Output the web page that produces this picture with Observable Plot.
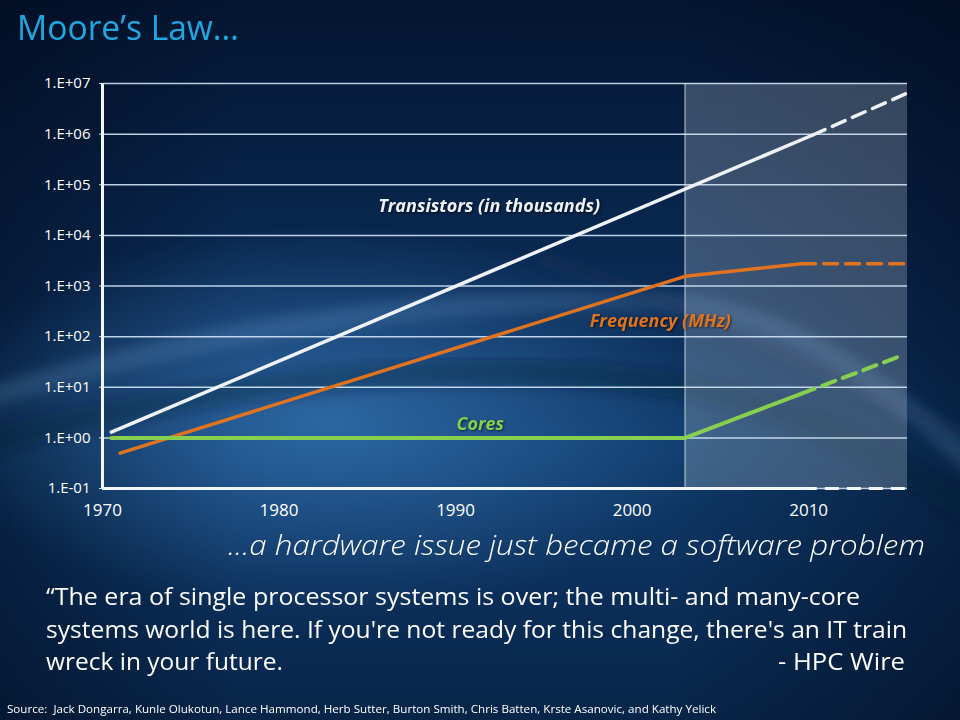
<!DOCTYPE html>
<html><head><meta charset="utf-8">
<script src="https://cdn.jsdelivr.net/npm/d3@7"></script>
<script src="https://cdn.jsdelivr.net/npm/@observablehq/plot@0.6"></script>
<style>
html,body{margin:0;padding:0;}
body{width:960px;height:720px;overflow:hidden;position:relative;font-family:"Open Sans","Noto Sans",sans-serif;
background:
 radial-gradient(ellipse 520px 260px at 330px 420px, rgba(70,140,210,0.55), rgba(70,140,210,0) 75%),
 linear-gradient(90deg, rgba(0,8,25,0.45) 0, rgba(0,8,25,0) 25%, rgba(0,8,25,0) 70%, rgba(0,8,25,0.45) 100%),
 linear-gradient(180deg, #031530 0%, #0a2b55 40%, #0f3c6c 62%, #0b2f5a 82%, #082548 100%);}
#bg{position:absolute;left:0;top:0;}
#chart{position:absolute;left:0;top:60px;}
.t{position:absolute;white-space:nowrap;transform-origin:0 0;color:#fff;line-height:1.2;}
#title{color:#1ea7e1;font-size:35px;}
#sub{font-size:28px;font-style:italic;font-weight:300;}
.q{font-size:23px;}
#src{font-size:11px;}
#chart g[aria-label="text"] text{filter:drop-shadow(1.5px 1.5px 1px rgba(0,0,0,0.6));}
</style></head>
<body>
<svg id="bg" width="960" height="720">
 <defs><filter id="bl"><feGaussianBlur stdDeviation="6"/></filter></defs>
 <path d="M-20,400 C200,330 420,300 620,300 C760,300 860,360 980,470" fill="none" stroke="rgba(140,190,240,0.16)" stroke-width="22" filter="url(#bl)"/>
 <path d="M-20,445 C220,380 430,360 640,380 C780,395 880,450 980,520" fill="none" stroke="rgba(0,20,50,0.3)" stroke-width="26" filter="url(#bl)"/>
 <path d="M540,260 C700,300 820,380 980,440" fill="none" stroke="rgba(20,50,90,0.35)" stroke-width="14" filter="url(#bl)"/>
</svg>
<div id="title" class="t">Moore’s Law…</div>
<div id="chart"></div>
<div id="sub" class="t">...a hardware issue just became a software problem</div>
<div id="q1" class="t q">“The era of single processor systems is over; the multi- and many-core</div>
<div id="q2" class="t q">systems world is here. If you're not ready for this change, there's an IT train</div>
<div id="q3" class="t q">wreck in your future.</div>
<div id="q4" class="t q">- HPC Wire</div>
<div id="src" class="t">Source:&nbsp; Jack Dongarra, Kunle Olukotun, Lance Hammond, Herb Sutter, Burton Smith, Chris Batten, Krste Asanovic, and Kathy Yelick</div>
<script>
// ---- data ----
const yearTicks = [1970, 1980, 1990, 2000, 2010];
const decadeTicks = [0.1, 1, 10, 100, 1e3, 1e4, 1e5, 1e6, 1e7];
const decadeLabels = ["1.E-01","1.E+00","1.E+01","1.E+02","1.E+03","1.E+04","1.E+05","1.E+06","1.E+07"];
const xStart = 1970, xEnd = 2015.6;
const multicoreStart = 2003;      // shaded era
const projectionStart = 2009.7;   // solid -> dashed

const transistorYears = [1970.5, 2010.2];
const transistorValues = [1.3, 9.5e5];
const transistorProjYears = [2010.2, 2015.6];
const transistorProjValues = [9.5e5, 6.5e6];

const frequencyYears = [1971, 2003, 2009.6];
const frequencyValues = [0.5, 1550, 2750];
const frequencyProjYears = [2009.6, 2015.6];
const frequencyProjValues = [2750, 2750];

const coreYears = [1970.5, 2003, 2009.6];
const coreValues = [1, 1, 7.5];
const coreProjYears = [2009.6, 2015.1];
const coreProjValues = [7.5, 40];

const labelNames = ["Transistors (in thousands)", "Frequency (MHz)", "Cores"];
const labelYears = [1991.9, 2001.6, 1991.4];
const labelValues = [3.7e4, 200, 1.9];
const seriesColors = ["#eef2f7", "#e0731f", "#86cf4f"];

// ---- helpers ----
const pts = (xs, ys) => xs.map((x, i) => ({x, y: ys[i]}));

const chart = Plot.plot({
  width: 960, height: 463,
  marginLeft: 102, marginRight: 53, marginTop: 23, marginBottom: 35,
  style: {background: "transparent", color: "#fff", fontFamily: "'Open Sans','Noto Sans',sans-serif", overflow: "visible"},
  x: {domain: [xStart, xEnd]},
  y: {type: "log", domain: [0.1, 1e7]},
  marks: [
    Plot.rect([{x1: multicoreStart, x2: xEnd, y1: 0.1, y2: 1e7}], {x1: "x1", x2: "x2", y1: "y1", y2: "y2", fill: "#c8d8e8", fillOpacity: 0.26}),
    Plot.ruleX([multicoreStart], {y1: 0.1, y2: 1e7, stroke: "#ffffff", strokeOpacity: 0.35, strokeWidth: 2}),
    Plot.gridY(decadeTicks, {stroke: "#d2e4f5", strokeOpacity: 0.9, strokeWidth: 1.5}),
    Plot.axisY(decadeTicks, {tickSize: 3, tickPadding: 9, fontSize: 15, stroke: "#d2e4f5", tickFormat: d => decadeLabels[decadeTicks.indexOf(d)], label: null}),
    Plot.axisX(yearTicks, {tickSize: 0, tickPadding: 15, fontSize: 17, tickFormat: d => String(d), label: null}),
    Plot.ruleX([xStart], {y1: 0.1, y2: 1e7, stroke: "#f2f5f9", strokeWidth: 3}),
    Plot.ruleY([0.1], {x1: xStart, x2: projectionStart, stroke: "#f2f5f9", strokeWidth: 3}),
    Plot.ruleY([0.1], {x1: projectionStart, x2: xEnd, stroke: "#f2f5f9", strokeWidth: 3, strokeDasharray: "14,8"}),
    Plot.line(pts(transistorYears, transistorValues), {x: "x", y: "y", stroke: seriesColors[0], strokeWidth: 3.5}),
    Plot.line(pts(transistorProjYears, transistorProjValues), {x: "x", y: "y", stroke: seriesColors[0], strokeWidth: 3.5, strokeDasharray: "14,8"}),
    Plot.line(pts(frequencyYears, frequencyValues), {x: "x", y: "y", stroke: seriesColors[1], strokeWidth: 3.5}),
    Plot.line(pts(frequencyProjYears, frequencyProjValues), {x: "x", y: "y", stroke: seriesColors[1], strokeWidth: 3.5, strokeDasharray: "14,8"}),
    Plot.line(pts(coreYears, coreValues), {x: "x", y: "y", stroke: seriesColors[2], strokeWidth: 4}),
    Plot.line(pts(coreProjYears, coreProjValues), {x: "x", y: "y", stroke: seriesColors[2], strokeWidth: 4, strokeDasharray: "14,8"}),
    Plot.text(labelNames.map((t, i) => ({t, x: labelYears[i], y: labelValues[i], c: seriesColors[i]})),
      {x: "x", y: "y", text: "t", fill: "c", fontSize: 18, fontWeight: "bold", fontStyle: "italic"})
  ]
});
document.getElementById("chart").appendChild(chart);

// enlarge tick labels (Plot's axis fontSize is overridden by the root style)
chart.querySelectorAll("text").forEach(t => {
  const s = t.textContent;
  if (decadeLabels.includes(s)) t.style.fontSize = "15px";
  else if (yearTicks.map(String).includes(s)) t.style.fontSize = "17px";
});

function place(id, x, baseline, width, right) {
  const el = document.getElementById(id);
  el.style.left = "0px"; el.style.top = "0px";
  const m = document.createElement("span");
  m.style.cssText = "display:inline-block;width:0;height:0;vertical-align:baseline;";
  el.appendChild(m);
  const b = m.offsetTop;
  el.removeChild(m);
  const w = el.getBoundingClientRect().width;
  const s = width ? width / w : 1;
  el.style.top = (baseline - b) + "px";
  el.style.left = (right ? x - w * s : x) + "px";
  el.style.transform = `scaleX(${s})`;
}
place("title", 17, 40, 222);
place("sub", 228, 555, 697);
place("q1", 46, 605, 814);
place("q2", 46, 638, 861);
place("q3", 46, 670, 237);
place("q4", 905, 670, 127, true);
place("src", 7, 713, 709);
</script>
</body></html>
